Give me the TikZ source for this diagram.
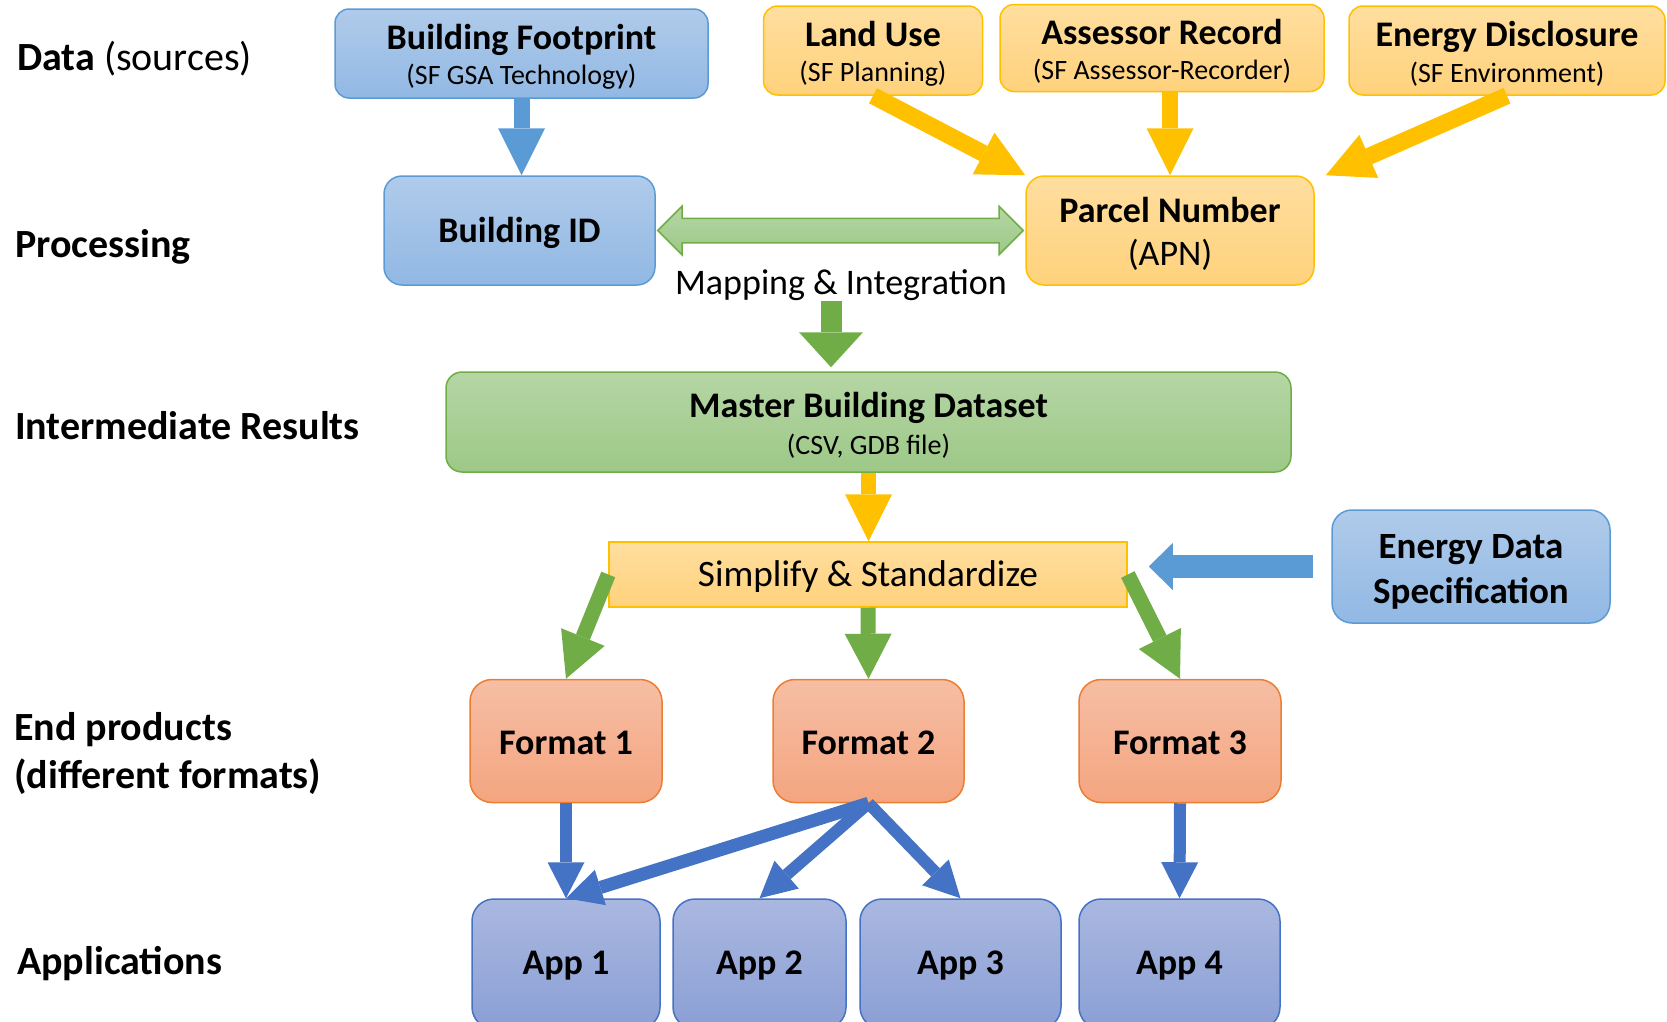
\documentclass[tikz,border=0pt]{standalone}
\usepackage{fontspec}
\setmainfont{Carlito}
\usetikzlibrary{arrows.meta,positioning,calc,shapes.arrows}

\definecolor{bluebd}{HTML}{5B9BD5}
\definecolor{bluetop}{HTML}{B0CBEA}
\definecolor{bluebot}{HTML}{91B8E4}
\definecolor{goldbd}{HTML}{FFC000}
\definecolor{goldtop}{HTML}{FFDE9F}
\definecolor{goldbot}{HTML}{FFD27C}
\definecolor{grnbd}{HTML}{70AD47}
\definecolor{grntop}{HTML}{B5D6A5}
\definecolor{grnbot}{HTML}{9DC887}
\definecolor{orgbd}{HTML}{ED7D31}
\definecolor{orgtop}{HTML}{F6BEA4}
\definecolor{orgbot}{HTML}{F4A580}
\definecolor{appbd}{HTML}{4472C4}
\definecolor{apptop}{HTML}{AAB8E0}
\definecolor{appbot}{HTML}{8A9FD5}

\newcommand{\subline}[1]{{\fontsize{28}{33}\selectfont #1}}
\newcommand{\hstrut}{\rule{0pt}{32pt}}

\begin{document}
\begin{tikzpicture}[
  x=1pt, y=-1pt,
  every node/.style={font=\fontsize{36}{34}\selectfont},
  box/.style={draw, line width=1.5pt, align=center, inner sep=0pt},
  bluebox/.style={box, draw=bluebd, top color=bluetop, bottom color=bluebot},
  goldbox/.style={box, draw=goldbd, top color=goldtop, bottom color=goldbot},
  grnbox/.style={box, draw=grnbd, top color=grntop, bottom color=grnbot},
  fmtbox/.style={box, draw=orgbd, top color=orgtop, bottom color=orgbot,
                 rounded corners=22pt, minimum width=192pt, minimum height=123pt,
                 text height=27pt, text depth=0pt,
                 font=\fontsize{36}{34}\selectfont\bfseries},
  appbox/.style={box, draw=appbd, top color=apptop, bottom color=appbot,
                 rounded corners=22pt, minimum height=130pt,
                 text height=27pt, text depth=7pt,
                 font=\fontsize{36}{34}\selectfont\bfseries},
  lbl/.style={anchor=west, inner sep=0pt, align=left,
              font=\fontsize{40}{48}\selectfont\bfseries},
  dblarr/.style={double arrow, draw=grnbd, line width=1.5pt, top color=grntop,
                 bottom color=grnbot, text height=23pt, text depth=0pt,
                 double arrow head extend=12pt, inner sep=0pt},
  barr/.style={draw=bluebd, line width=16pt,
               -{Triangle[length=47pt, width=47pt, line width=0pt]}},
  hbarr/.style={draw=bluebd, line width=23pt,
                -{Triangle[length=24pt, width=47pt, line width=0pt]}},
  yarr/.style={draw=goldbd, line width=16pt,
               -{Triangle[length=47pt, width=47pt, line width=0pt]}},
  garr/.style={draw=grnbd, line width=15pt,
               -{Triangle[length=45pt, width=47pt, line width=0pt]}},
  marr/.style={draw=grnbd, line width=21pt,
               -{Triangle[length=35pt, width=64pt, line width=0pt]}},
  aarr/.style={draw=appbd, line width=12pt,
               -{Triangle[length=36pt, width=37pt, line width=0pt]}}
]
  \useasboundingbox (0,0) rectangle (1667,1021);
  \clip (0,0) rectangle (1667,1021);

  \node[lbl] (ldata) at (17,58.5) {Data \textmd{(sources)}};
  \node[lbl] (lproc) at (15,247) {Processing};
  \node[lbl] (linter) at (15,425.5) {Intermediate Results};
  \node[lbl] (lend) at (14,753) {End products\\(different formats)};
  \node[lbl] (lapps) at (17,964) {Applications};

  \node[bluebox, rounded corners=14pt, minimum width=373pt, minimum height=89pt]
    (bfoot) at (521.5,53.5) {\hstrut\textbf{Building Footprint}\\[1.5pt]\subline{(SF GSA Technology)}};
  \node[goldbox, rounded corners=14pt, minimum width=219pt, minimum height=89pt]
    (landuse) at (873,50.5) {\hstrut\textbf{Land Use}\\[1.5pt]\subline{(SF Planning)}};
  \node[goldbox, rounded corners=14pt, minimum width=324pt, minimum height=87pt]
    (assessor) at (1162,48) {\hstrut\textbf{Assessor Record}\\[1.5pt]\subline{(SF Assessor-Recorder)}};
  \node[goldbox, rounded corners=14pt, minimum width=316pt, minimum height=89pt]
    (edisc) at (1507,50.5) {\hstrut\textbf{Energy Disclosure}\\[1.5pt]\subline{(SF Environment)}};

  \node[bluebox, rounded corners=18pt, minimum width=271pt, minimum height=109pt,
        text height=31pt, text depth=7pt]
    (bid) at (519.5,230.5) {\textbf{Building ID}};
  \node[goldbox, rounded corners=18pt, minimum width=288pt, minimum height=109pt]
    (apn) at (1170,230.5) {\hstrut\textbf{Parcel Number}\\[9.5pt](APN)};
  \node[inner sep=0pt] (map) at (841,285) {Mapping \& Integration};

  \node[grnbox, rounded corners=16pt, minimum width=845pt, minimum height=100pt]
    (master) at (868.5,422) {\hstrut\textbf{Master Building Dataset}\\[2.5pt]\subline{(CSV, GDB file)}};
  \node[goldbox, minimum width=518pt, minimum height=65pt, text height=31pt, text depth=7pt,
        font=\fontsize{37.3}{34}\selectfont]
    (simp) at (868,574.5) {Simplify \& Standardize};
  \node[bluebox, rounded corners=20pt, minimum width=278pt, minimum height=113pt,
        font=\fontsize{37}{34}\selectfont\bfseries]
    (espec) at (1471,566.5) {\rule{0pt}{34pt}Energy Data\\[11pt]Specification};

  \node[fmtbox] (fmt1) at (566,741) {Format 1};
  \node[fmtbox, minimum width=191pt, right=109.5pt of fmt1] (fmt2) {Format 2};
  \node[fmtbox, minimum width=202pt, right=113.5pt of fmt2] (fmt3) {Format 3};

  \node[appbox, minimum width=188pt] (app1) at (566,964) {App 1};
  \node[appbox, minimum width=173pt, right=11.5pt of app1] (app2) {App 2};
  \node[appbox, minimum width=201pt, right=12.5pt of app2] (app3) {App 3};
  \node[appbox, minimum width=201pt, right=16.5pt of app3] (app4) {App 4};

  \draw[barr] (bfoot.south) -- (bfoot.south |- bid.north);
  \draw[yarr, line width=17pt] (landuse.south) -- (apn.north west);
  \draw[yarr] (assessor.south -| apn.north) -- (apn.north);
  \draw[yarr, line width=17pt] (edisc.south) -- ([xshift=11pt]apn.north east);
  \path let \p1=($(apn.west)-(bid.east)$) in
    node[dblarr, minimum height=\x1-4pt] (link) at ($(bid.east)!.5!(apn.west)$) {};
  \draw[marr, shorten >=4pt] ([xshift=-10pt]map.south) -- ([xshift=-10pt]map.south |- master.north);
  \draw[yarr, line width=15pt] (master.south) -- (master.south |- simp.north);
  \draw[hbarr, shorten <=18pt, shorten >=21pt] (espec.west) -- (espec.west -| simp.east);
  \draw[garr] (simp.west) -- (fmt1.north);
  \draw[garr] (simp.south) -- (fmt2.north);
  \draw[garr] (simp.east) -- (fmt3.north);
  \draw[aarr] (fmt1.south) -- (app1.north);
  \draw[aarr, line width=13pt] (fmt2.south) -- (app1.north);
  \draw[aarr] (fmt2.south) -- (app2.north);
  \draw[aarr] (fmt2.south) -- (app3.north);
  \draw[aarr] (fmt3.south) -- (app4.north);
\end{tikzpicture}
\end{document}
